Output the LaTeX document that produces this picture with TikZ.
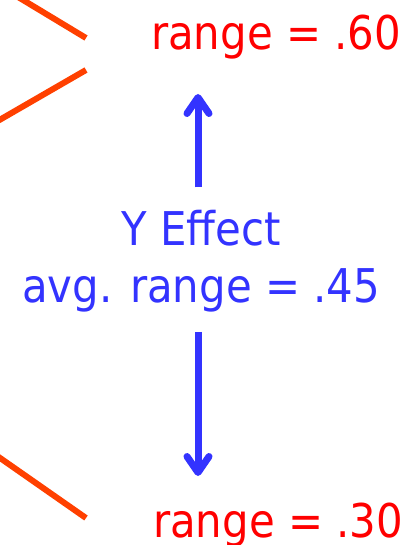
\documentclass[tikz,border=0pt]{standalone}
\usepackage{fontspec}
\setmainfont{DejaVu Sans}[FakeStretch=0.9]
\usepackage{tikz}
\usetikzlibrary{arrows.meta,positioning}
\definecolor{rangered}{RGB}{255,0,0}
\definecolor{branchorange}{RGB}{255,64,0}
\definecolor{effblue}{RGB}{51,51,255}
\tikzstyle{rangelbl}=[inner sep=0pt,text=rangered,font=\fontsize{46.5}{52}\selectfont]
\tikzstyle{efflbl}=[inner sep=0pt,text=effblue,font=\fontsize{46.5}{52}\selectfont]
\tikzstyle{effarrow}=[-{Straight Barb[length=16pt,width=22pt,round]},line width=7pt,draw=effblue]
\tikzstyle{branch}=[line width=6pt,draw=branchorange]

\begin{document}
\begin{tikzpicture}[x=1pt,y=-1pt]
      \useasboundingbox (0,0) rectangle (409,545);
      \clip (0,0) rectangle (409,545);
      \node[rangelbl,anchor=base] (hi) at (276,50) {range = .60};
      \node[efflbl,anchor=base] (yeff) at (201,245) {Y Effect};
      \node[efflbl,anchor=base] (avg) at (201,302) {avg. range = .45};
      \node[rangelbl,anchor=base] (lo) at (278,537) {range = .30};
      \coordinate (uptip) at (198,94);
      \coordinate (downtip) at (198,476);
      \coordinate (b1end) at (86,38);
      \coordinate (b2end) at (86,70);
      \coordinate (b3end) at (86,518);
      \draw[effarrow] ([xshift=-3pt,yshift=22pt]yeff.north) -- (uptip);
      \draw[effarrow] ([xshift=-3pt,yshift=-20pt]avg.south) -- (downtip);
      \draw[branch] (-30,-32) -- (b1end);
      \draw[branch] (b2end) -- (-30,137);
      \draw[branch] (-30,437) -- (b3end);
    \end{tikzpicture}
\end{document}
